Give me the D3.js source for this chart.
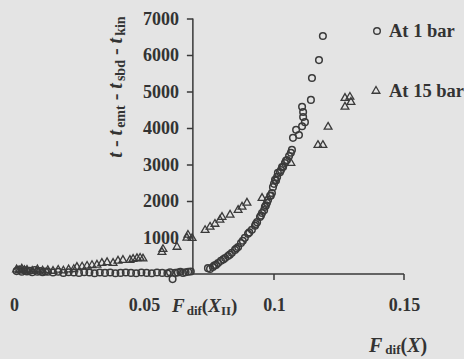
<!DOCTYPE html>
<html>
<head>
<meta charset="utf-8">
<script src="https://cdn.jsdelivr.net/npm/d3@7"></script>
<style>
  html, body { margin: 0; padding: 0; background: #e4e4e4; }
  svg text { font-family: "Liberation Serif", "DejaVu Serif", serif; font-weight: bold; fill: #333; }
</style>
</head>
<body>
<svg id="chart" width="464" height="359"></svg>
<script>
// At 1 bar (circles)
const bar1X = [0.001, 0.002, 0.003, 0.004, 0.005, 0.006, 0.007, 0.008, 0.009, 0.010, 0.011, 0.012, 0.013,
  0.015, 0.017, 0.019, 0.021, 0.023, 0.025, 0.027, 0.029, 0.031, 0.033, 0.035, 0.037, 0.039, 0.041, 0.043,
  0.045, 0.047, 0.049, 0.051, 0.053, 0.055, 0.057, 0.059, 0.060, 0.061, 0.062, 0.063, 0.064, 0.065, 0.066,
  0.067, 0.068,
  0.0746, 0.0754, 0.0765, 0.0777, 0.0785, 0.0796, 0.0812, 0.0823, 0.0838, 0.0850, 0.0862, 0.0873, 0.0888,
  0.0900, 0.0915, 0.0927, 0.0935, 0.0946, 0.0954, 0.0962, 0.0965, 0.0973, 0.0977, 0.0985, 0.0992, 0.0996,
  0.1000, 0.1004, 0.1012, 0.1015, 0.1023, 0.1031, 0.1035, 0.1042, 0.1050, 0.1058, 0.1065, 0.1069, 0.1073,
  0.1085, 0.1096, 0.1108, 0.1119, 0.1112, 0.1112, 0.1108, 0.1142, 0.1146, 0.1173, 0.1188,
  0.0770, 0.0805, 0.0830, 0.0855, 0.0880, 0.0905, 0.0930, 0.0950, 0.0969, 0.0988, 0.1008, 0.1027, 0.1046];
const bar1Y = [80, 120, 60, 100, 70, 90, 50, 110, 60, 80, 50, 70, 60,
  40, 60, 30, 50, 40, 30, 50, 40, 20, 40, 30, 40, 20, 30, 40,
  30, 20, 40, 30, 20, 40, 30, 20, 50, -140, 30, 40, 60, 30, 50,
  60, 70,
  160, 140, 190, 250, 300, 360, 440, 490, 580, 660, 740, 850, 990,
  1100, 1210, 1320, 1420, 1560, 1670, 1750, 1840, 1950, 2030, 2140, 2220, 2380,
  2470, 2580, 2660, 2770, 2790, 2930, 2930, 3040, 3120, 3230, 3320, 3400, 3730,
  3950, 3810, 4050, 4160, 4300, 4440, 4580, 4770, 5370, 5860, 6520,
  230, 400, 530, 700, 910, 1140, 1370, 1600, 1880, 2150, 2560, 2850, 3100];

// At 15 bar (triangles)
const bar15X = [0.001, 0.002, 0.003, 0.004, 0.005, 0.007, 0.009, 0.011, 0.013, 0.015, 0.017, 0.019, 0.021,
  0.023, 0.0242, 0.0262, 0.0281, 0.0300, 0.0319, 0.0338, 0.0358, 0.0381, 0.0400, 0.0419, 0.0446, 0.0458,
  0.0473, 0.0485, 0.0496, 0.0569, 0.0573, 0.0627, 0.0665, 0.0669, 0.0685,
  0.0735, 0.0754, 0.0773, 0.0792, 0.0800, 0.0831, 0.0862, 0.0877, 0.0896, 0.0954,
  0.1065, 0.1169, 0.1188, 0.1208, 0.1273, 0.1273, 0.1292, 0.1296];
const bar15Y = [120, 90, 140, 100, 110, 80, 120, 90, 100, 80, 110, 90, 120,
  130, 190, 200, 220, 240, 250, 300, 320, 300, 360, 380, 380, 410,
  430, 440, 420, 600, 680, 740, 990, 1070, 980,
  1200, 1290, 1370, 1480, 1560, 1620, 1750, 1840, 1950, 2080,
  3040, 3530, 3530, 4030, 4580, 4820, 4850, 4710];

const yTicks = [1000, 2000, 3000, 4000, 5000, 6000, 7000];
const xTicks = [0, 0.05, 0.1, 0.15];
const xTickLabels = ["0", "0.05", "0.1", "0.15"];
const xAxisCross = 0.0688;

const ink = "#383838";
const svg = d3.select("#chart");

const x = d3.scaleLinear().domain([0, 0.15]).range([14, 404]);
const y = d3.scaleLinear().domain([0, 7000]).range([274, 18.5]);

// y axis
const yAxis = svg.append("g")
  .attr("transform", "translate(" + x(xAxisCross) + ",0)")
  .call(d3.axisLeft(y).tickValues(yTicks).tickSize(6).tickPadding(8).tickFormat(d3.format("d")));
yAxis.select(".domain").attr("d", "M0," + y(0) + "V" + y(7000)).attr("stroke", ink).attr("stroke-width", 1.5);
yAxis.selectAll(".tick line").attr("stroke", ink).attr("stroke-width", 1.5);
yAxis.selectAll(".tick text").attr("font-size", 18).attr("fill", "#333")
  .attr("font-family", "Liberation Serif").attr("font-weight", "bold");

// x axis: line from the y axis to 0.15, labels at every tick
svg.append("line")
  .attr("x1", x(xAxisCross)).attr("x2", x(0.15))
  .attr("y1", y(0)).attr("y2", y(0))
  .attr("stroke", ink).attr("stroke-width", 1.5);
svg.selectAll(".xtickmark")
  .data([0.1, 0.15])
  .enter().append("line")
  .attr("x1", d => x(d)).attr("x2", d => x(d))
  .attr("y1", y(0)).attr("y2", y(0) + 6)
  .attr("stroke", ink).attr("stroke-width", 1.5);
const xAxis = svg.append("g")
  .attr("transform", "translate(0," + y(0) + ")")
  .call(d3.axisBottom(x).tickValues(xTicks).tickSize(0).tickPadding(24)
    .tickFormat((d, i) => xTickLabels[i]));
xAxis.select(".domain").remove();
xAxis.selectAll(".tick text").attr("font-size", 18).attr("fill", "#333")
  .attr("font-family", "Liberation Serif").attr("font-weight", "bold");

// markers
const circles = bar1X.map((v, i) => ({ x: v, y: bar1Y[i] }));
const triangles = bar15X.map((v, i) => ({ x: v, y: bar15Y[i] }));

svg.append("g").selectAll("circle")
  .data(circles)
  .enter().append("circle")
  .attr("cx", d => x(d.x)).attr("cy", d => y(d.y))
  .attr("r", 3.3)
  .attr("fill", "none").attr("stroke", "#3a3a3a").attr("stroke-width", 1.5);

const tri = d3.symbol().type(d3.symbolTriangle).size(26);
svg.append("g").selectAll("path")
  .data(triangles)
  .enter().append("path")
  .attr("d", tri)
  .attr("transform", d => "translate(" + x(d.x) + "," + y(d.y) + ")")
  .attr("fill", "none").attr("stroke", "#3a3a3a").attr("stroke-width", 1.3);

// legend
svg.append("circle").attr("cx", 377).attr("cy", 31).attr("r", 3.3)
  .attr("fill", "none").attr("stroke", "#3a3a3a").attr("stroke-width", 1.4);
svg.append("text").attr("x", 389).attr("y", 37).attr("font-size", 18.5).text("At 1 bar");
svg.append("path").attr("d", tri).attr("transform", "translate(376,91)")
  .attr("fill", "none").attr("stroke", "#3a3a3a").attr("stroke-width", 1.3);
svg.append("text").attr("x", 389).attr("y", 97).attr("font-size", 18.5).text("At 15 bar");

// x axis labels
const xl = svg.append("text").attr("x", 172).attr("y", 312).attr("font-size", 19);
xl.append("tspan").attr("font-style", "italic").text("F");
xl.append("tspan").attr("font-size", 13).attr("dx", 2).attr("dy", 3).text("dif");
xl.append("tspan").attr("dy", -3).text("(");
xl.append("tspan").attr("font-style", "italic").text("X");
xl.append("tspan").attr("font-size", 13).attr("dy", 3).text("II");
xl.append("tspan").attr("dy", -3).text(")");

const xl2 = svg.append("text").attr("x", 369).attr("y", 352).attr("font-size", 20);
xl2.append("tspan").attr("font-style", "italic").text("F");
xl2.append("tspan").attr("font-size", 13).attr("dx", 3).attr("dy", 2).text("dif");
xl2.append("tspan").attr("dy", -2).text("(");
xl2.append("tspan").attr("font-style", "italic").text("X");
xl2.append("tspan").text(")");

// y axis label
const yl = svg.append("text")
  .attr("transform", "translate(122,87) rotate(-90)")
  .attr("text-anchor", "middle").attr("font-size", 20);
yl.append("tspan").attr("font-style", "italic").text("t");
yl.append("tspan").text("  -  ");
yl.append("tspan").attr("font-style", "italic").text("t");
yl.append("tspan").attr("font-size", 14).attr("dx", 2).attr("dy", 3).text("emt");
yl.append("tspan").attr("dy", -3).text("  -  ");
yl.append("tspan").attr("font-style", "italic").text("t");
yl.append("tspan").attr("font-size", 14).attr("dx", 2).attr("dy", 3).text("sbd");
yl.append("tspan").attr("dy", -3).text("  -  ");
yl.append("tspan").attr("font-style", "italic").text("t");
yl.append("tspan").attr("font-size", 14).attr("dx", 2).attr("dy", 3).text("kin");
</script>
</body>
</html>
